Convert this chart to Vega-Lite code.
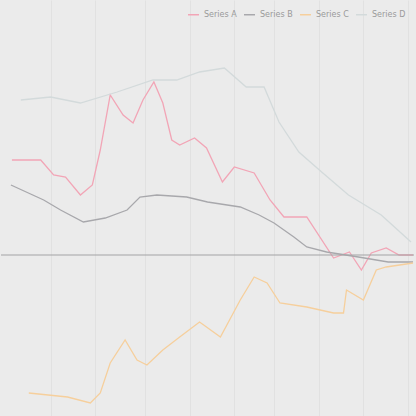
{
  "$schema": "https://vega.github.io/schema/vega-lite/v6.json",
  "width": 416,
  "height": 416,
  "autosize": {"type": "fit", "contains": "padding"},
  "padding": 0,
  "background": "#ebebeb",
  "config": {"view": {"stroke": null}, "font": "DejaVu Sans"},
  "datasets": {
    "lines": [
      {"t": 11, "v": 256, "s": "Series A"}, {"t": 40, "v": 256, "s": "Series A"}, {"t": 53, "v": 241, "s": "Series A"}, {"t": 65, "v": 239, "s": "Series A"}, {"t": 80, "v": 221, "s": "Series A"}, {"t": 92, "v": 231, "s": "Series A"}, {"t": 100, "v": 266, "s": "Series A"}, {"t": 110, "v": 321, "s": "Series A"}, {"t": 123, "v": 301, "s": "Series A"}, {"t": 133, "v": 293, "s": "Series A"}, {"t": 143, "v": 316, "s": "Series A"}, {"t": 154, "v": 334, "s": "Series A"}, {"t": 163, "v": 313, "s": "Series A"}, {"t": 172, "v": 276, "s": "Series A"}, {"t": 180, "v": 271, "s": "Series A"}, {"t": 195, "v": 278, "s": "Series A"}, {"t": 207, "v": 268, "s": "Series A"}, {"t": 223, "v": 234, "s": "Series A"}, {"t": 235, "v": 249, "s": "Series A"}, {"t": 255, "v": 243, "s": "Series A"}, {"t": 271, "v": 216, "s": "Series A"}, {"t": 285, "v": 199, "s": "Series A"}, {"t": 308, "v": 199, "s": "Series A"}, {"t": 335, "v": 158, "s": "Series A"}, {"t": 351, "v": 164, "s": "Series A"}, {"t": 363, "v": 146, "s": "Series A"}, {"t": 373, "v": 163, "s": "Series A"}, {"t": 388, "v": 168, "s": "Series A"}, {"t": 401, "v": 161, "s": "Series A"}, {"t": 415, "v": 161, "s": "Series A"},
      {"t": 10, "v": 231, "s": "Series B"}, {"t": 43, "v": 216, "s": "Series B"}, {"t": 60, "v": 206, "s": "Series B"}, {"t": 83, "v": 194, "s": "Series B"}, {"t": 105, "v": 198, "s": "Series B"}, {"t": 127, "v": 206, "s": "Series B"}, {"t": 140, "v": 219, "s": "Series B"}, {"t": 157, "v": 221, "s": "Series B"}, {"t": 187, "v": 219, "s": "Series B"}, {"t": 208, "v": 214, "s": "Series B"}, {"t": 241, "v": 209, "s": "Series B"}, {"t": 260, "v": 201, "s": "Series B"}, {"t": 275, "v": 193, "s": "Series B"}, {"t": 295, "v": 179, "s": "Series B"}, {"t": 308, "v": 169, "s": "Series B"}, {"t": 328, "v": 164, "s": "Series B"}, {"t": 360, "v": 159, "s": "Series B"}, {"t": 390, "v": 154, "s": "Series B"}, {"t": 415, "v": 154, "s": "Series B"},
      {"t": 28, "v": 23, "s": "Series C"}, {"t": 67, "v": 19, "s": "Series C"}, {"t": 90, "v": 13, "s": "Series C"}, {"t": 100, "v": 23, "s": "Series C"}, {"t": 110, "v": 53, "s": "Series C"}, {"t": 125, "v": 76, "s": "Series C"}, {"t": 137, "v": 56, "s": "Series C"}, {"t": 147, "v": 51, "s": "Series C"}, {"t": 163, "v": 66, "s": "Series C"}, {"t": 180, "v": 79, "s": "Series C"}, {"t": 200, "v": 94, "s": "Series C"}, {"t": 221, "v": 79, "s": "Series C"}, {"t": 241, "v": 116, "s": "Series C"}, {"t": 255, "v": 139, "s": "Series C"}, {"t": 268, "v": 133, "s": "Series C"}, {"t": 281, "v": 113, "s": "Series C"}, {"t": 308, "v": 109, "s": "Series C"}, {"t": 335, "v": 103, "s": "Series C"}, {"t": 345, "v": 103, "s": "Series C"}, {"t": 348, "v": 126, "s": "Series C"}, {"t": 365, "v": 116, "s": "Series C"}, {"t": 378, "v": 146, "s": "Series C"}, {"t": 388, "v": 149, "s": "Series C"}, {"t": 415, "v": 153, "s": "Series C"},
      {"t": 20, "v": 316, "s": "Series D"}, {"t": 50, "v": 319, "s": "Series D"}, {"t": 80, "v": 313, "s": "Series D"}, {"t": 117, "v": 324, "s": "Series D"}, {"t": 153, "v": 336, "s": "Series D"}, {"t": 177, "v": 336, "s": "Series D"}, {"t": 200, "v": 344, "s": "Series D"}, {"t": 225, "v": 348, "s": "Series D"}, {"t": 247, "v": 329, "s": "Series D"}, {"t": 265, "v": 329, "s": "Series D"}, {"t": 280, "v": 294, "s": "Series D"}, {"t": 300, "v": 264, "s": "Series D"}, {"t": 323, "v": 244, "s": "Series D"}, {"t": 350, "v": 221, "s": "Series D"}, {"t": 383, "v": 201, "s": "Series D"}, {"t": 413, "v": 174, "s": "Series D"}
    ],
    "ref": [{"v": 161}]
  },
  "layer": [
    {
      "data": {"name": "lines"},
      "mark": {"type": "line", "strokeWidth": 1.3, "interpolate": "linear"},
      "encoding": {
        "x": {"field": "t", "type": "quantitative", "scale": {"domain": [0, 416], "nice": false, "zero": false},
              "axis": {"title": null, "labels": false, "ticks": false, "domain": false, "grid": true, "gridColor": "#e1e1e1", "values": [50, 95, 145, 190, 235, 275, 320, 365, 410]}},
        "y": {"field": "v", "type": "quantitative", "scale": {"domain": [0, 416], "nice": false},
              "axis": null},
        "color": {"field": "s", "type": "nominal",
                  "scale": {"domain": ["Series A", "Series B", "Series C", "Series D"], "range": ["#f2a5b6", "#a8a8ac", "#f6cf9c", "#d3dadb"]},
                  "legend": {"orient": "top-right", "direction": "horizontal", "title": null, "labelFontSize": 8, "labelColor": "#9a9a9a", "symbolType": "stroke", "symbolSize": 120, "columnPadding": 4, "offset": 8}}
      }
    },
    {
      "data": {"name": "ref"},
      "mark": {"type": "rule", "color": "#a3a3a6", "strokeWidth": 1.2},
      "encoding": {"y": {"field": "v", "type": "quantitative"}}
    }
  ]
}
